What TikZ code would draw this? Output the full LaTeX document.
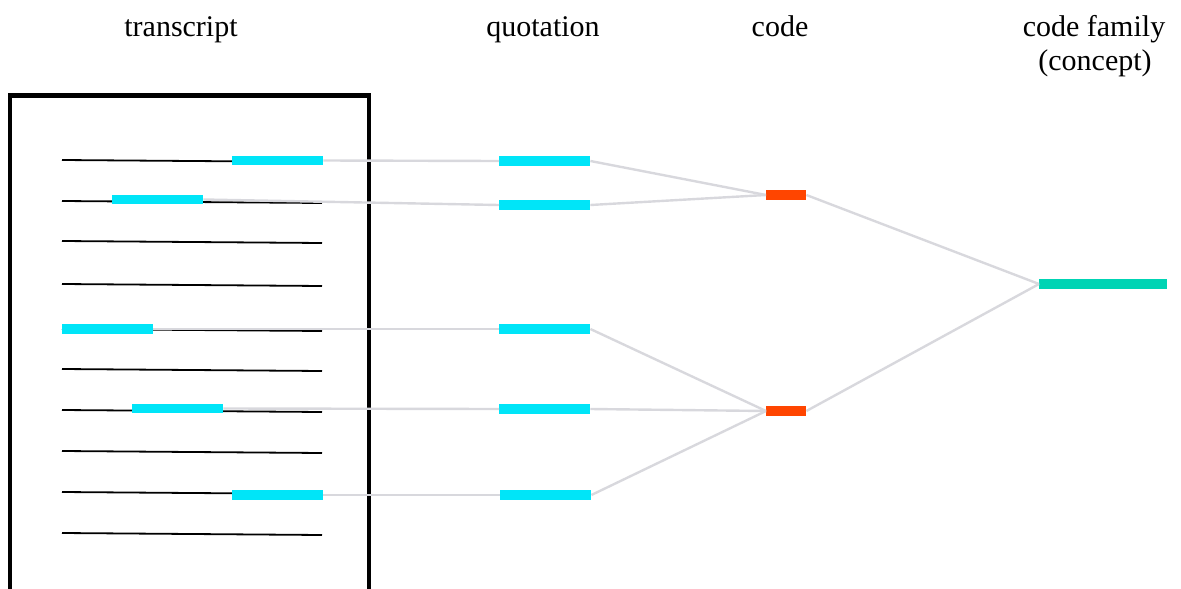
\documentclass[tikz,border=0pt]{standalone}
\usepackage{fontspec}
\setmainfont{Liberation Serif}
\definecolor{quotecyan}{HTML}{00E5F8}
\definecolor{codered}{HTML}{FF4500}
\definecolor{familyteal}{HTML}{00D4B4}
\definecolor{linkgray}{HTML}{D8D8DD}
\tikzset{
  bar/.style={rectangle, inner sep=0pt, minimum height=9.5pt, anchor=west},
  quotebar/.style={bar, fill=quotecyan, minimum width=91pt},
  codebar/.style={bar, fill=codered, minimum width=40pt},
  familybar/.style={bar, fill=familyteal, minimum width=128pt},
  link/.style={draw=linkgray, line width=2.4pt},
  textline/.style={draw=black, line width=1.8pt},
  heading/.style={anchor=base, inner sep=0pt, font=\fontsize{30}{36}\selectfont, align=center}
}
\begin{document}
\begin{tikzpicture}[x=1pt,y=-1pt]
\useasboundingbox (0,0) rectangle (1181,589);
\clip (0,0) rectangle (1181,589);

% column headings
\node[heading] (h1) at (181,36) {transcript};
\node[heading] (h2) at (543,36) {quotation};
\node[heading] (h3) at (780,36) {code};
\node[heading] (h4a) at (1094,36) {code family};
\node[heading] (h4b) at (1095,70) {(concept)};

% transcript page
\draw[line width=4.2pt] (10,640) -- (10,95.5) -- (369,95.5) -- (369,640);
\foreach \y in {160,201,241,284,329,369,410,451,492,533}
  \draw[textline] (62,\y) -- (322,\y+2);

% highlighted passages in the transcript
\node[quotebar] (t1) at (232,160.5) {};
\node[quotebar] (t2) at (112,199.5) {};
\node[quotebar] (t3) at (62,329) {};
\node[quotebar] (t4) at (132,408.5) {};
\node[quotebar] (t5) at (232,495) {};

% quotations
\node[quotebar] (q1) at (499,161) {};
\node[quotebar] (q2) at (499,205) {};
\node[quotebar] (q3) at (499,329) {};
\node[quotebar] (q4) at (499,409) {};
\node[quotebar] (q5) at (500,495) {};

% codes
\node[codebar] (c1) at (766,195) {};
\node[codebar] (c2) at (766,411) {};

% code family
\node[familybar] (f1) at (1039,284) {};

% links
\draw[link] (t1.east) -- (q1.west);
\draw[link] (t2.east) -- (q2.west);
\draw[link] (t3.east) -- (q3.west);
\draw[link] (t4.east) -- (q4.west);
\draw[link] (t5.east) -- (q5.west);
\draw[link] (q1.east) -- (c1.west);
\draw[link] (q2.east) -- (c1.west);
\draw[link] (q3.east) -- (c2.west);
\draw[link] (q4.east) -- (c2.west);
\draw[link] (q5.east) -- (c2.west);
\draw[link] (c1.east) -- (f1.west);
\draw[link] (c2.east) -- (f1.west);
\end{tikzpicture}
\end{document}
